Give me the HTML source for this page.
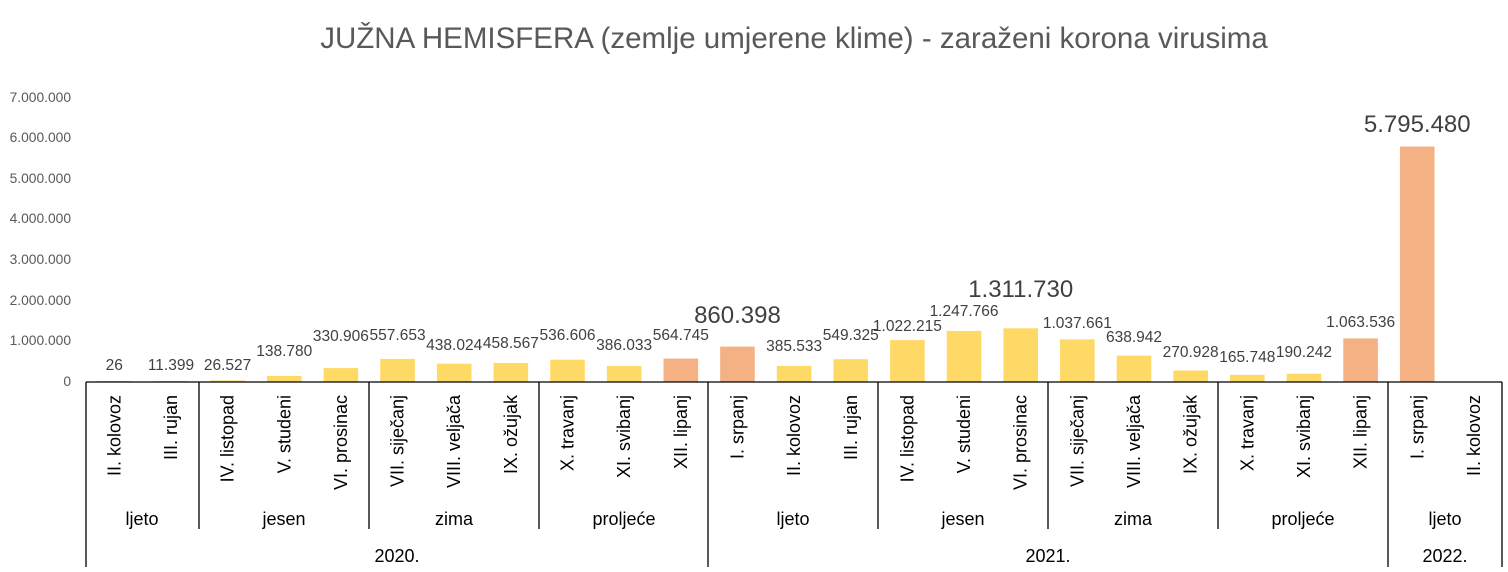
<!DOCTYPE html>
<html><head><meta charset="utf-8"><style>
html,body{margin:0;padding:0;background:#fff;}
svg{display:block;font-family:"Liberation Sans",sans-serif;}
</style></head><body>
<svg width="1508" height="572" viewBox="0 0 1508 572" xmlns="http://www.w3.org/2000/svg">
<text x="794" y="48" text-anchor="middle" font-size="29.5" fill="#595959">JUŽNA HEMISFERA (zemlje umjerene klime) - zaraženi korona virusima</text>
<g font-size="13.8" fill="#595959" text-anchor="end">
<text x="71" y="386">0</text>
<text x="71" y="345">1.000.000</text>
<text x="71" y="305">2.000.000</text>
<text x="71" y="264">3.000.000</text>
<text x="71" y="223">4.000.000</text>
<text x="71" y="183">5.000.000</text>
<text x="71" y="142">6.000.000</text>
<text x="71" y="102">7.000.000</text>
</g>
<g fill="#FFD966">
<rect x="97" y="381" width="34.6" height="0.5"/>
<rect x="153.65" y="381" width="34.6" height="0.5"/>
<rect x="210.3" y="380.4" width="34.6" height="1.1"/>
<rect x="266.95" y="375.9" width="34.6" height="5.6"/>
<rect x="323.6" y="368.1" width="34.6" height="13.4"/>
<rect x="380.25" y="358.9" width="34.6" height="22.6"/>
<rect x="436.9" y="363.7" width="34.6" height="17.8"/>
<rect x="493.55" y="362.9" width="34.6" height="18.6"/>
<rect x="550.2" y="359.7" width="34.6" height="21.8"/>
<rect x="606.85" y="365.9" width="34.6" height="15.6"/>
<rect x="776.8" y="365.9" width="34.6" height="15.6"/>
<rect x="833.45" y="359.2" width="34.6" height="22.3"/>
<rect x="890.1" y="340.1" width="34.6" height="41.4"/>
<rect x="946.75" y="330.9" width="34.6" height="50.6"/>
<rect x="1003.4" y="328.3" width="34.6" height="53.2"/>
<rect x="1060.05" y="339.4" width="34.6" height="42.1"/>
<rect x="1116.7" y="355.6" width="34.6" height="25.9"/>
<rect x="1173.35" y="370.5" width="34.6" height="11"/>
<rect x="1230" y="374.8" width="34.6" height="6.7"/>
<rect x="1286.65" y="373.8" width="34.6" height="7.7"/>
</g>
<g fill="#F4B183">
<rect x="663.5" y="358.6" width="34.6" height="22.9"/>
<rect x="720.15" y="346.6" width="34.6" height="34.9"/>
<rect x="1343.3" y="338.4" width="34.6" height="43.1"/>
<rect x="1399.95" y="146.5" width="34.6" height="235"/>
</g>
<g font-size="15.5" fill="#404040" text-anchor="middle">
<text x="114.3" y="370">26</text>
<text x="170.95" y="370">11.399</text>
<text x="227.6" y="370">26.527</text>
<text x="284.25" y="356">138.780</text>
<text x="340.9" y="341">330.906</text>
<text x="397.55" y="340">557.653</text>
<text x="454.2" y="350">438.024</text>
<text x="510.85" y="348">458.567</text>
<text x="567.5" y="340">536.606</text>
<text x="624.15" y="350">386.033</text>
<text x="680.8" y="340">564.745</text>
<text x="794.1" y="351">385.533</text>
<text x="850.75" y="340">549.325</text>
<text x="907.4" y="331">1.022.215</text>
<text x="964.05" y="316">1.247.766</text>
<text x="1077.35" y="328">1.037.661</text>
<text x="1134" y="342">638.942</text>
<text x="1190.65" y="357">270.928</text>
<text x="1247.3" y="362">165.748</text>
<text x="1303.95" y="357">190.242</text>
<text x="1360.6" y="327">1.063.536</text>
</g>
<g font-size="24" fill="#404040" text-anchor="middle">
<text x="737.45" y="323">860.398</text>
<text x="1020.7" y="297">1.311.730</text>
<text x="1417.25" y="132">5.795.480</text>
</g>
<g stroke="#000" stroke-width="1.3">
<line x1="86" y1="382" x2="1502" y2="382"/>
<line x1="86" y1="382" x2="86" y2="567"/>
<line x1="708" y1="382" x2="708" y2="567"/>
<line x1="1388" y1="382" x2="1388" y2="567"/>
<line x1="1502" y1="382" x2="1502" y2="567"/>
<line x1="199" y1="382" x2="199" y2="529"/>
<line x1="369" y1="382" x2="369" y2="529"/>
<line x1="539" y1="382" x2="539" y2="529"/>
<line x1="878" y1="382" x2="878" y2="529"/>
<line x1="1048" y1="382" x2="1048" y2="529"/>
<line x1="1218" y1="382" x2="1218" y2="529"/>
</g>
<g font-size="18" fill="#000" text-anchor="end">
<text transform="translate(120.3,395) rotate(-90)">II. kolovoz</text>
<text transform="translate(176.95,395) rotate(-90)">III. rujan</text>
<text transform="translate(233.6,395) rotate(-90)">IV. listopad</text>
<text transform="translate(290.25,395) rotate(-90)">V. studeni</text>
<text transform="translate(346.9,395) rotate(-90)">VI. prosinac</text>
<text transform="translate(403.55,395) rotate(-90)">VII. siječanj</text>
<text transform="translate(460.2,395) rotate(-90)">VIII. veljača</text>
<text transform="translate(516.85,395) rotate(-90)">IX. ožujak</text>
<text transform="translate(573.5,395) rotate(-90)">X. travanj</text>
<text transform="translate(630.15,395) rotate(-90)">XI. svibanj</text>
<text transform="translate(686.8,395) rotate(-90)">XII. lipanj</text>
<text transform="translate(743.45,395) rotate(-90)">I. srpanj</text>
<text transform="translate(800.1,395) rotate(-90)">II. kolovoz</text>
<text transform="translate(856.75,395) rotate(-90)">III. rujan</text>
<text transform="translate(913.4,395) rotate(-90)">IV. listopad</text>
<text transform="translate(970.05,395) rotate(-90)">V. studeni</text>
<text transform="translate(1026.7,395) rotate(-90)">VI. prosinac</text>
<text transform="translate(1083.35,395) rotate(-90)">VII. siječanj</text>
<text transform="translate(1140,395) rotate(-90)">VIII. veljača</text>
<text transform="translate(1196.65,395) rotate(-90)">IX. ožujak</text>
<text transform="translate(1253.3,395) rotate(-90)">X. travanj</text>
<text transform="translate(1309.95,395) rotate(-90)">XI. svibanj</text>
<text transform="translate(1366.6,395) rotate(-90)">XII. lipanj</text>
<text transform="translate(1423.25,395) rotate(-90)">I. srpanj</text>
<text transform="translate(1479.9,395) rotate(-90)">II. kolovoz</text>
</g>
<g font-size="18" fill="#000" text-anchor="middle">
<text x="142" y="525">ljeto</text>
<text x="284" y="525">jesen</text>
<text x="454" y="525">zima</text>
<text x="624" y="525">proljeće</text>
<text x="793" y="525">ljeto</text>
<text x="963" y="525">jesen</text>
<text x="1133" y="525">zima</text>
<text x="1303" y="525">proljeće</text>
<text x="1445" y="525">ljeto</text>
<text x="397" y="562">2020.</text>
<text x="1048" y="562">2021.</text>
<text x="1445" y="562">2022.</text>
</g>
</svg>
</body></html>
